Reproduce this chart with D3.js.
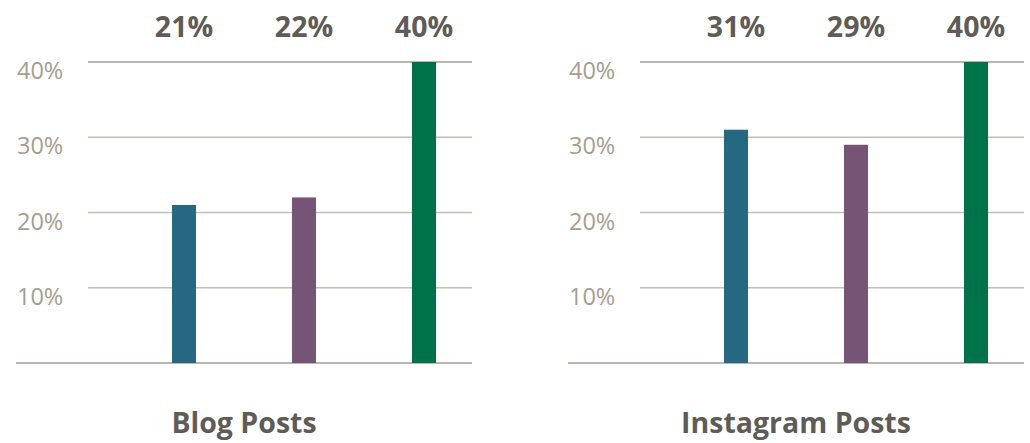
<!DOCTYPE html>
<html>
<head>
<meta charset="utf-8">
<script src="https://cdn.jsdelivr.net/npm/d3@7"></script>
<style>
  html, body { margin: 0; padding: 0; background: #fff; }
  svg { display: block; }
</style>
</head>
<body>
<svg id="chart" width="1030" height="443"></svg>
<script>
// Share of posts by group, two channels
const categories = ["A", "B", "C"];
const panels = ["Blog Posts", "Instagram Posts"];
const blogValues = [21, 22, 40];
const instagramValues = [31, 29, 40];
const seriesValues = [blogValues, instagramValues];
const tickValues = [10, 20, 30, 40];
const colors = ["#266781", "#765475", "#007249"];

const svg = d3.select("#chart");
const fontFamily = "'Open Sans', 'Noto Sans', sans-serif";

const panelOffset = 552;

const y = d3.scaleLinear().domain([0, 40]).range([363, 62]);
const x = d3.scaleBand()
  .domain(categories)
  .range([124, 484])
  .paddingInner(0.8)
  .paddingOuter(0.4);

panels.forEach((title, i) => {
  const g = svg.append("g").attr("transform", `translate(${i * panelOffset},0)`);
  const values = seriesValues[i];

  // gridlines
  g.selectAll("line.grid")
    .data(tickValues)
    .join("line")
    .attr("class", "grid")
    .attr("x1", 88)
    .attr("x2", 472)
    .attr("y1", d => y(d))
    .attr("y2", d => y(d))
    .attr("stroke", d => d === 40 ? "#a69e91" : "#c4beb5")
    .attr("stroke-width", 1.3);

  // baseline
  g.append("line")
    .attr("x1", 16).attr("x2", 472)
    .attr("y1", y(0)).attr("y2", y(0))
    .attr("stroke", "#a69e91")
    .attr("stroke-width", 1.3);

  // tick labels
  g.selectAll("text.tick")
    .data(tickValues)
    .join("text")
    .attr("class", "tick")
    .attr("x", 17)
    .attr("y", d => y(d) + 17)
    .attr("font-family", fontFamily)
    .attr("font-size", 23.5)
    .attr("fill", "#a69d90")
    .text(d => d + "%");

  // bars
  g.selectAll("rect.bar")
    .data(values)
    .join("rect")
    .attr("class", "bar")
    .attr("x", (d, j) => x(categories[j]))
    .attr("width", x.bandwidth())
    .attr("y", d => y(d))
    .attr("height", d => y(0) - y(d))
    .attr("fill", (d, j) => colors[j]);

  // value labels along the top
  g.selectAll("text.value")
    .data(values)
    .join("text")
    .attr("class", "value")
    .attr("x", (d, j) => x(categories[j]) + x.bandwidth() / 2)
    .attr("y", 37)
    .attr("text-anchor", "middle")
    .attr("font-family", fontFamily)
    .attr("font-weight", 700)
    .attr("font-size", 28.5)
    .attr("fill", "#5f5b57")
    .text(d => d + "%");

  // panel title
  g.append("text")
    .attr("x", 244)
    .attr("y", 433)
    .attr("text-anchor", "middle")
    .attr("font-family", fontFamily)
    .attr("font-weight", 700)
    .attr("font-size", 28.5)
    .attr("fill", "#5f5b57")
    .text(title);
});
</script>
</body>
</html>
